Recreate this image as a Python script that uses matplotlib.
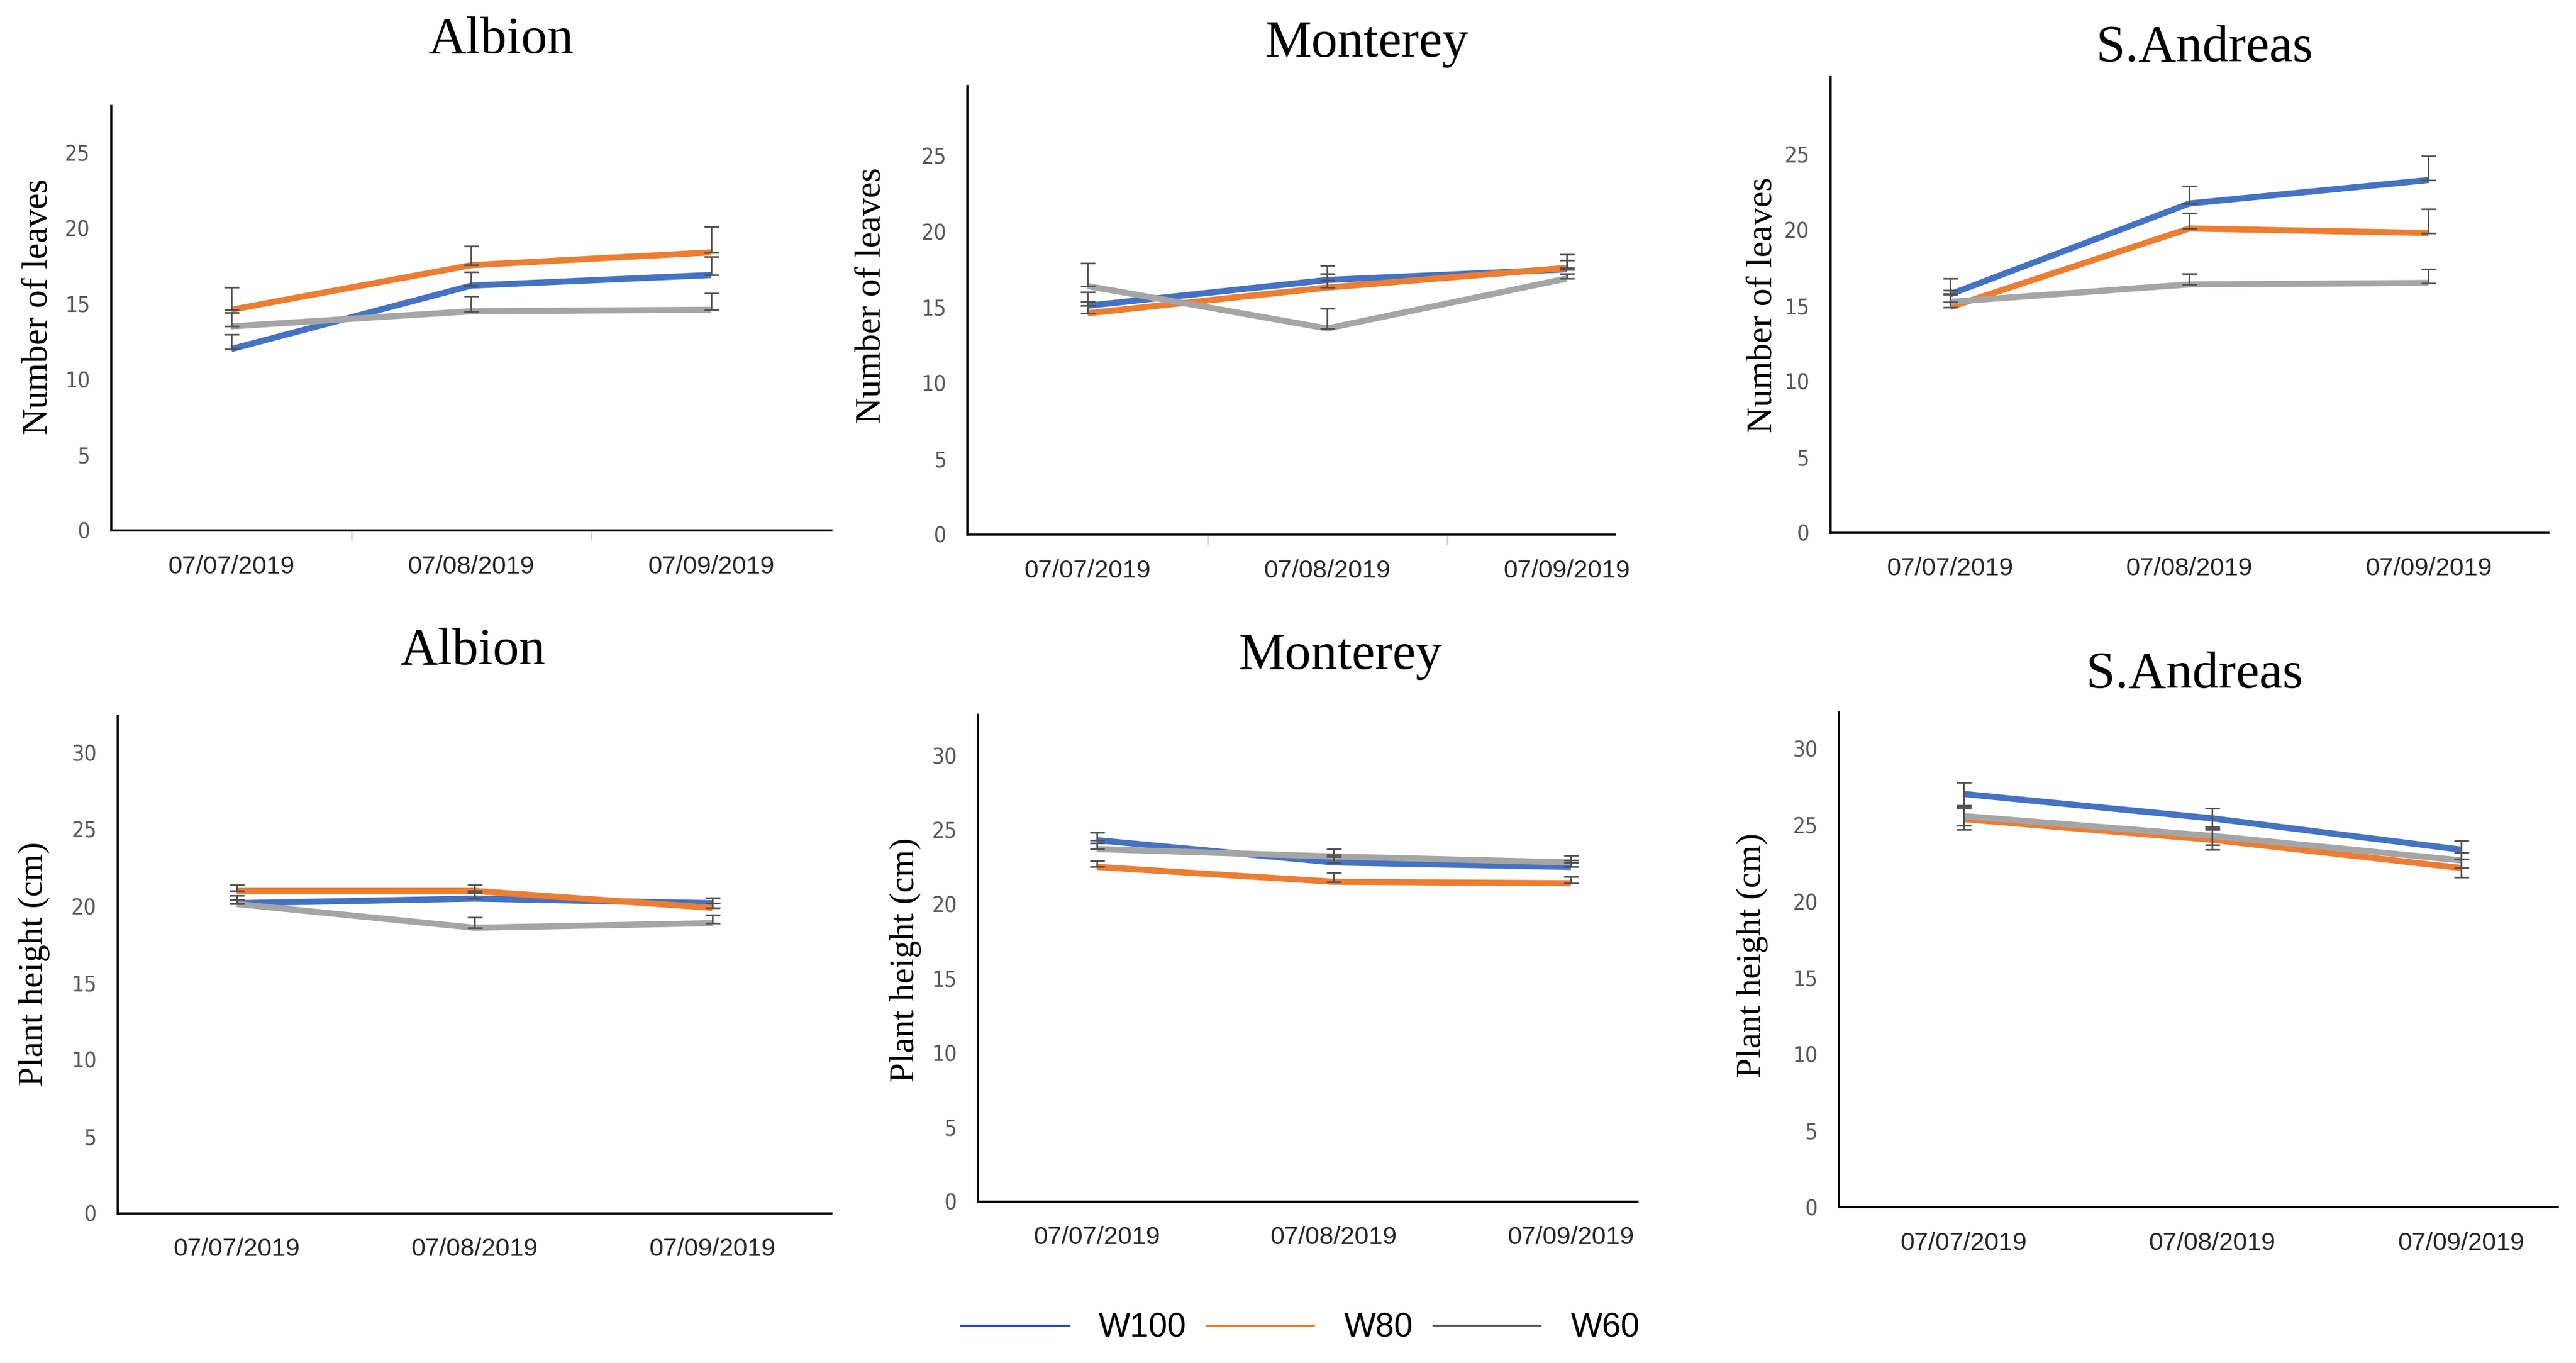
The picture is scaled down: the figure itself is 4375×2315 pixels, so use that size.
# ===========================================================================
# Strawberry cultivars under three irrigation levels (W100 / W80 / W60)
# Top row: number of leaves, bottom row: plant height -- one panel per cultivar
# ===========================================================================

import matplotlib
matplotlib.use('Agg')
import matplotlib.pyplot as plt
from matplotlib.lines import Line2D

# ---- data ----------------------------------------------------------------
dates = ['07/07/2019', '07/08/2019', '07/09/2019']
cultivars = ['Albion', 'Monterey', 'S.Andreas']
treatments = ['W100', 'W80', 'W60']

# one inner list per cultivar (Albion, Monterey, S.Andreas)
leaves_w100 = [[12.0, 16.2, 16.9], [15.1, 16.8, 17.5], [15.75, 21.75, 23.3]]
leaves_w80 = [[14.6, 17.55, 18.4], [14.6, 16.3, 17.6], [14.9, 20.1, 19.8]]
leaves_w60 = [[13.5, 14.5, 14.6], [16.4, 13.6, 16.9], [15.25, 16.4, 16.5]]

leaves_err_w100 = [[0.95, 0.9, 1.2], [0.9, 0.95, 0.6], [1.05, 1.15, 1.6]]
leaves_err_w80 = [[1.5, 1.25, 1.7], [0.8, 0.9, 0.9], [0.9, 1.0, 1.6]]
leaves_err_w60 = [[0.9, 1.0, 1.1], [1.5, 1.3, 0.3], [0.75, 0.7, 0.9]]

height_w100 = [[20.2, 20.5, 20.2], [24.3, 22.8, 22.5], [27.05, 25.45, 23.4]]
height_w80 = [[21.0, 21.0, 19.9], [22.5, 21.5, 21.4], [25.4, 24.05, 22.2]]
height_w60 = [[20.15, 18.6, 18.9], [23.7, 23.2, 22.8], [25.6, 24.3, 22.7]]

height_err_w100 = [[0.5, 0.4, 0.35], [0.5, 0.5, 0.45], [0.75, 0.65, 0.6]]
height_err_w80 = [[0.4, 0.4, 0.3], [0.4, 0.6, 0.45], [0.7, 0.65, 0.6]]
height_err_w60 = [[0.3, 0.7, 0.55], [0.4, 0.5, 0.45], [0.6, 0.6, 0.5]]

# error bars drawn both ways only in the S.Andreas height panel
height_two_sided = [False, False, True]

# ---- styling ---------------------------------------------------------------
LINE_COLORS = ['#4472C4', '#ED7D31', '#A5A5A5']
LEGEND_COLORS = ['#3046C0', '#ED7D31', '#595959']
ERR_COLOR = '#505050'
SERIF = ['Liberation Serif', 'DejaVu Serif']
SANS = ['Liberation Sans', 'DejaVu Sans']

# axes rectangles (figure fractions), y top, x right limit
top_rects = [(0.04318, 0.61084, 0.27953, 0.31157),
             (0.37564, 0.60783, 0.25128, 0.32904),
             (0.71065, 0.60928, 0.27851, 0.33410)]
bot_rects = [(0.04573, 0.10988, 0.27698, 0.36482),
             (0.37972, 0.11855, 0.25587, 0.35723),
             (0.71390, 0.11446, 0.27908, 0.36301)]
top_ymax = [28.1, 29.6, 30.1]
bot_ymax = [32.4, 32.75, 32.4]
top_xmax = [2.5, 2.2, 2.5]
bot_xmax = [2.5, 2.28, 2.39]

top_title_pos = [(0.1945, 0.9612), (0.5306, 0.9584), (0.8559, 0.9550)]
bot_title_pos = [(0.1834, 0.5128), (0.5204, 0.5093), (0.8520, 0.4954)]
top_ylabel_pos = [(0.0149, 0.7750), (0.3383, 0.7831), (0.6843, 0.7764)]
bot_ylabel_pos = [(0.0133, 0.2928), (0.3516, 0.2959), (0.6802, 0.2994)]

fig = plt.figure(figsize=(43.75, 23.15), dpi=100)
fig.patch.set_facecolor('white')

x = list(range(len(dates)))


def draw_panel(rect, ymax, xmax, series, errs, two_sided, yticks, minor):
    ax = fig.add_axes(rect)
    for vals, col in zip(series, LINE_COLORS):
        ax.plot(x, vals, color=col, lw=7.5, solid_joinstyle='miter',
                solid_capstyle='butt', zorder=3)
    for vals, err in zip(series, errs):
        lower = err if two_sided else [0] * len(err)
        ax.errorbar(x, vals, yerr=[lower, err], fmt='none', ecolor=ERR_COLOR,
                    elinewidth=2.0, capsize=9, capthick=2.0, zorder=4)
    ax.set_xlim(-0.5, xmax)
    ax.set_ylim(0, ymax)
    for s in ['top', 'right']:
        ax.spines[s].set_visible(False)
    for s in ['left', 'bottom']:
        ax.spines[s].set_linewidth(2.6)
        ax.spines[s].set_color('black')
    ax.set_xticks(x)
    ax.set_xticklabels(dates, fontsize=31, family=SANS, color='#262626')
    ax.tick_params(axis='x', which='major', length=0, pad=30)
    if minor:
        ax.set_xticks([0.5, 1.5], minor=True)
        ax.tick_params(axis='x', which='minor', length=12, width=2,
                       color='#D0D0D0', direction='out')
    ax.set_yticks(yticks)
    ax.set_yticklabels([str(t) for t in yticks], fontsize=27,
                       family='DejaVu Sans', stretch='condensed',
                       color='#595959')
    ax.tick_params(axis='y', length=0, pad=26)
    return ax


for i, name in enumerate(cultivars):
    series = [leaves_w100[i], leaves_w80[i], leaves_w60[i]]
    errs = [leaves_err_w100[i], leaves_err_w80[i], leaves_err_w60[i]]
    draw_panel(top_rects[i], top_ymax[i], top_xmax[i], series, errs, False,
               [0, 5, 10, 15, 20, 25], minor=(i < 2))
    fig.text(top_title_pos[i][0], top_title_pos[i][1], name, ha='center',
             va='baseline', fontsize=64, family=SERIF)
    fig.text(top_ylabel_pos[i][0], top_ylabel_pos[i][1], 'Number of leaves',
             ha='center', va='center', rotation=90, fontsize=44, family=SERIF)

    series = [height_w100[i], height_w80[i], height_w60[i]]
    errs = [height_err_w100[i], height_err_w80[i], height_err_w60[i]]
    draw_panel(bot_rects[i], bot_ymax[i], bot_xmax[i], series, errs,
               height_two_sided[i], [0, 5, 10, 15, 20, 25, 30], minor=False)
    fig.text(bot_title_pos[i][0], bot_title_pos[i][1], name, ha='center',
             va='baseline', fontsize=64, family=SERIF)
    fig.text(bot_ylabel_pos[i][0], bot_ylabel_pos[i][1], 'Plant height (cm)',
             ha='center', va='center', rotation=90, fontsize=43, family=SERIF)

# shared legend along the bottom edge
handles = [Line2D([0], [0], color=c, lw=2.4) for c in LEGEND_COLORS]
leg = fig.legend(handles, treatments, loc='center',
                 bbox_to_anchor=(0.5048, 0.0255), ncol=3, frameon=False,
                 handlelength=3.2, handletextpad=0.9, columnspacing=0.6,
                 prop={'family': SANS, 'size': 41})

fig.savefig('out.png', dpi=100, facecolor='white')
plt.close(fig)
